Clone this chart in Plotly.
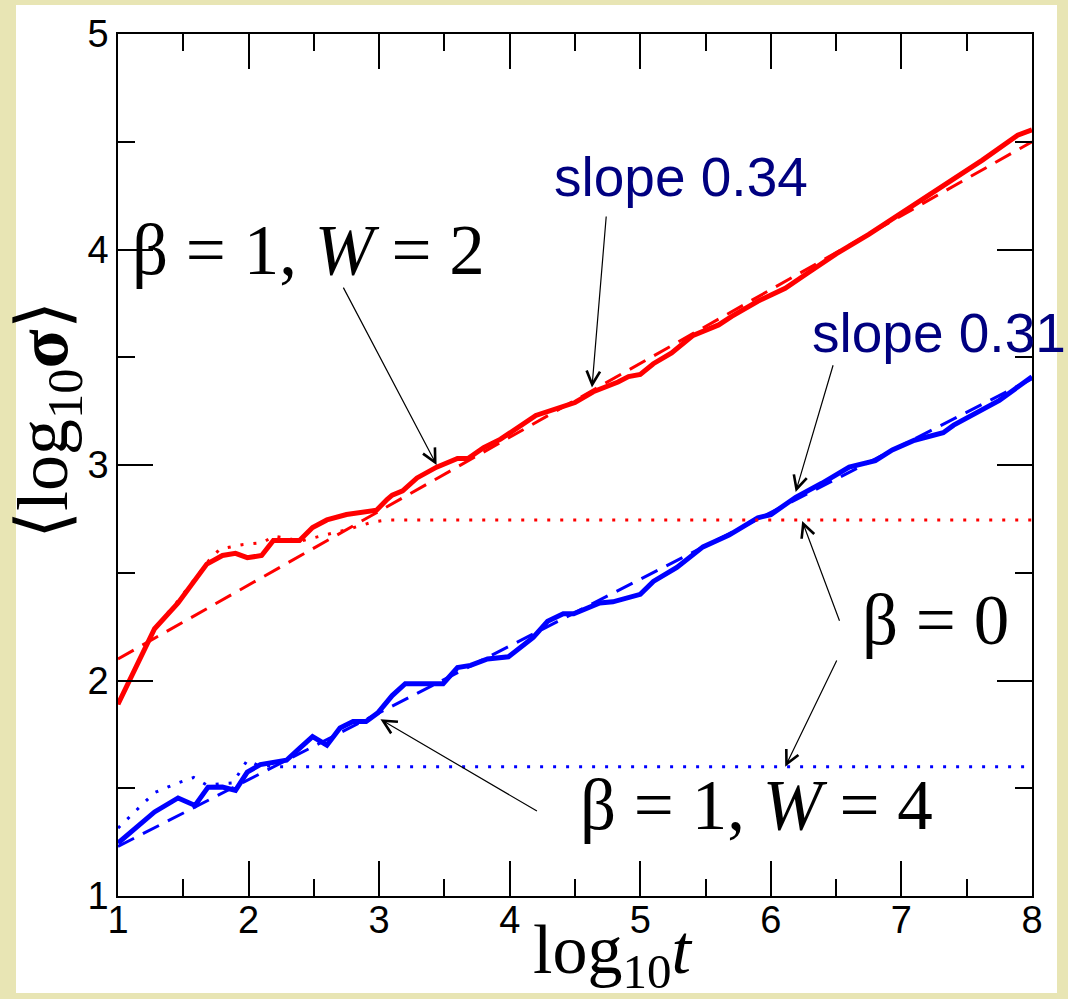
import plotly.graph_objects as go

# ---- data ----
red_solid_x = [1.00, 1.28, 1.46, 1.68, 1.80, 1.90, 1.99, 2.10, 2.19, 2.39, 2.49, 2.60, 2.75, 2.90, 2.98,
               3.06, 3.10, 3.18, 3.29, 3.44, 3.60, 3.68, 3.80, 3.93, 4.20, 4.50, 4.64, 4.83, 4.91, 5.00,
               5.10, 5.24, 5.40, 5.60, 5.70, 5.90, 6.11, 6.28, 6.50, 6.75, 7.00, 7.14, 7.40, 7.62, 7.89, 8.00]
red_solid_y = [1.89, 2.24, 2.36, 2.54, 2.58, 2.59, 2.57, 2.58, 2.65, 2.65, 2.71, 2.745, 2.77, 2.78, 2.79,
               2.84, 2.86, 2.88, 2.94, 2.99, 3.03, 3.03, 3.08, 3.12, 3.23, 3.29, 3.34, 3.385, 3.41, 3.42,
               3.47, 3.52, 3.60, 3.65, 3.69, 3.76, 3.82, 3.89, 3.98, 4.07, 4.17, 4.23, 4.33, 4.415, 4.53, 4.555]

red_fit_x = [1.0, 8.0]
red_fit_y = [2.10, 4.50]

red_beta0_x = [1.00, 1.28, 1.46, 1.70, 1.78, 1.95, 2.11, 2.19, 2.30, 2.39, 2.55, 2.75, 2.95, 3.06, 8.00]
red_beta0_y = [1.89, 2.24, 2.37, 2.56, 2.61, 2.63, 2.64, 2.67, 2.66, 2.645, 2.67, 2.70, 2.735, 2.745, 2.745]

blue_solid_x = [1.00, 1.28, 1.46, 1.59, 1.69, 1.80, 1.90, 1.99, 2.09, 2.19, 2.29, 2.39, 2.49, 2.60, 2.70,
                2.80, 2.90, 2.99, 3.10, 3.20, 3.31, 3.49, 3.60, 3.70, 3.83, 3.99, 4.18, 4.29, 4.41, 4.49,
                4.69, 4.79, 5.00, 5.10, 5.28, 5.48, 5.68, 5.90, 6.00, 6.19, 6.39, 6.60, 6.80, 6.93, 7.10,
                7.32, 7.40, 7.56, 7.75, 8.00]
blue_solid_y = [1.246, 1.39, 1.455, 1.42, 1.505, 1.506, 1.49, 1.575, 1.61, 1.62, 1.63, 1.685, 1.74, 1.70, 1.78,
                1.81, 1.81, 1.85, 1.93, 1.985, 1.985, 1.985, 2.06, 2.07, 2.10, 2.11, 2.20, 2.275, 2.31, 2.31,
                2.36, 2.365, 2.40, 2.46, 2.525, 2.62, 2.675, 2.755, 2.77, 2.85, 2.915, 2.99, 3.02, 3.07, 3.115,
                3.15, 3.185, 3.24, 3.30, 3.41]

blue_fit_x = [1.0, 8.0]
blue_fit_y = [1.23, 3.40]

blue_beta0_x = [1.00, 1.28, 1.46, 1.58, 1.68, 1.88, 1.99, 2.06, 2.20, 8.00]
blue_beta0_y = [1.315, 1.48, 1.525, 1.55, 1.515, 1.525, 1.63, 1.61, 1.60, 1.60]

x_ticks = [1, 2, 3, 4, 5, 6, 7, 8]
y_ticks = [1, 2, 3, 4, 5]

RED = "#ff0000"
BLUE = "#0000ff"
NAVY = "#000080"
BEIGE = "#e8e5b4"
SERIF = "Liberation Serif, Times New Roman, serif"
SANS = "Liberation Sans, Arial, sans-serif"

fig = go.Figure()

fig.add_trace(go.Scatter(x=red_solid_x, y=red_solid_y, mode="lines",
                         line=dict(color=RED, width=5), name="β=1, W=2"))
fig.add_trace(go.Scatter(x=blue_solid_x, y=blue_solid_y, mode="lines",
                         line=dict(color=BLUE, width=5), name="β=1, W=4"))
fig.add_trace(go.Scatter(x=red_fit_x, y=red_fit_y, mode="lines",
                         line=dict(color=RED, width=3, dash="18px,10px"), name="slope 0.34"))
fig.add_trace(go.Scatter(x=blue_fit_x, y=blue_fit_y, mode="lines",
                         line=dict(color=BLUE, width=3, dash="18px,10px"), name="slope 0.31"))
fig.add_trace(go.Scatter(x=red_beta0_x, y=red_beta0_y, mode="lines",
                         line=dict(color=RED, width=3, dash="3px,10px"), name="β=0, W=2"))
fig.add_trace(go.Scatter(x=blue_beta0_x, y=blue_beta0_y, mode="lines",
                         line=dict(color=BLUE, width=3, dash="3px,10px"), name="β=0, W=4"))

axis_common = dict(
    showline=True, linecolor="black", linewidth=1.5, mirror="ticks",
    ticks="inside", ticklen=35, tickwidth=1.5, tickcolor="black",
    showgrid=False, zeroline=False,
    tickfont=dict(family=SANS, size=38, color="black"),
    minor=dict(dtick=0.5, ticks="inside", ticklen=17, tickwidth=1.5, tickcolor="black", showgrid=False),
)

fig.update_xaxes(range=[1, 8], tickvals=x_ticks, ticktext=[str(v) for v in x_ticks],
                 ticklabelstandoff=-10, **axis_common)
fig.update_yaxes(range=[1, 5], tickvals=y_ticks, ticktext=[str(v) for v in y_ticks], **axis_common)

L, R, T, B = 118, 36, 34, 103
W, H = 1068, 999
pw, ph = W - L - R, H - T - B

def px_x(p):
    return (p - L) / pw

def px_y(p):
    return (H - B - p) / ph

fig.add_shape(type="rect", xref="paper", yref="paper",
              x0=px_x(16), x1=px_x(1057), y0=px_y(993), y1=px_y(5),
              fillcolor="white", line=dict(width=0), layer="below")

annotations = []
# axis titles
annotations.append(dict(text="log<sub>10</sub><i>t</i>", xref="paper", yref="paper",
                        x=px_x(612), y=px_y(955), xanchor="center", yanchor="middle",
                        showarrow=False, font=dict(family=SERIF, size=70, color="black")))
annotations.append(dict(text="⟨log<sub>10</sub><b>σ</b>⟩", xref="paper", yref="paper",
                        x=px_x(48), y=px_y(420), xanchor="center", yanchor="middle", textangle=-90,
                        showarrow=False, font=dict(family=SERIF, size=72, color="black")))

# labels
annotations.append(dict(text="β = 1, <i>W</i> = 2", xref="paper", yref="paper",
                        x=px_x(130), y=px_y(250), xanchor="left", yanchor="middle",
                        showarrow=False, font=dict(family=SERIF, size=71, color="black")))
annotations.append(dict(text="β = 1, <i>W</i> = 4", xref="paper", yref="paper",
                        x=px_x(578), y=px_y(805), xanchor="left", yanchor="middle",
                        showarrow=False, font=dict(family=SERIF, size=71, color="black")))
annotations.append(dict(text="β = 0", xref="paper", yref="paper",
                        x=px_x(860), y=px_y(620), xanchor="left", yanchor="middle",
                        showarrow=False, font=dict(family=SERIF, size=71, color="black")))
annotations.append(dict(text="slope 0.34", xref="paper", yref="paper",
                        x=px_x(552), y=px_y(177), xanchor="left", yanchor="middle",
                        showarrow=False, font=dict(family=SANS, size=55, color=NAVY)))
annotations.append(dict(text="slope 0.31", xref="paper", yref="paper",
                        x=px_x(810), y=px_y(333), xanchor="left", yanchor="middle",
                        showarrow=False, font=dict(family=SANS, size=55, color=NAVY)))

# arrows: (head x, head y, tail x, tail y) in data units
arrows = [
    (3.44, 3.00, 2.72, 3.83),
    (4.63, 3.36, 4.74, 4.16),
    (6.19, 2.875, 6.48, 3.47),
    (6.24, 2.74, 6.53, 2.27),
    (6.11, 1.60, 6.51, 2.10),
    (3.01, 1.82, 4.22, 1.39),
]
for hx, hy, tx, ty in arrows:
    annotations.append(dict(text="", x=hx, y=hy, ax=tx, ay=ty, xref="x", yref="y",
                            axref="x", ayref="y", showarrow=True, arrowhead=5,
                            arrowsize=2.2, arrowwidth=1.2, arrowcolor="black",
                            standoff=0, startstandoff=0))

fig.update_layout(
    width=W, height=H,
    margin=dict(l=L, r=R, t=T, b=B),
    paper_bgcolor=BEIGE, plot_bgcolor="white",
    showlegend=False,
    annotations=annotations,
)

fig.write_html("out.html")
